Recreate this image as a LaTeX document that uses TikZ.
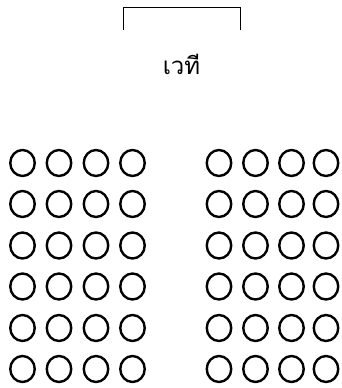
\documentclass[tikz,border=0pt]{standalone}
\usepackage{fontspec}
\newfontfamily\thaifont[Script=Thai]{Loma}
\usetikzlibrary{shapes.geometric}
\begin{document}
\begin{tikzpicture}[x=1pt,y=-1pt,
  seat/.style={draw,ellipse,line width=2.4pt,minimum width=24.5pt,minimum height=26pt,inner sep=0pt}]
\useasboundingbox (0,0) rectangle (342,388);
% stage
\draw[line width=1pt] (123,30) -- (123,7) -- (240,7) -- (240,30);
\node[anchor=base] (stage) at (181.5,74) {\thaifont\fontsize{24}{26}\selectfont เวที};
% seats
\foreach \r/\y in {1/163,2/204,3/245.5,4/286.5,5/328,6/369}
{
  \foreach \c/\x in {1/22.5,2/59,3/96,4/132.5}
    \node[seat] (left-\r-\c) at (\x,\y) {};
  \foreach \c/\x in {1/219,2/255.5,3/291.5,4/326}
    \node[seat] (right-\r-\c) at (\x,\y) {};
}
\end{tikzpicture}
\end{document}
